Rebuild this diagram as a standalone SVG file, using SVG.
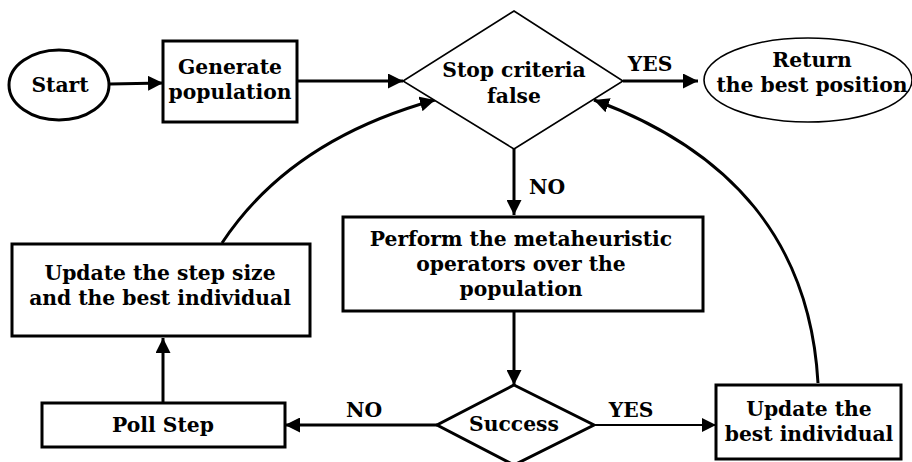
<svg xmlns="http://www.w3.org/2000/svg" width="912" height="462" viewBox="0 0 912 462">
<style>
text{font-family:"DejaVu Serif",serif;font-weight:bold;font-size:20.3px;fill:#000;text-anchor:middle}
.n{fill:#fff;stroke:#000;stroke-width:3}
.t{fill:#fff;stroke:#000;stroke-width:1.6}
.c{fill:none;stroke:#000;stroke-width:3}
.ct{fill:none;stroke:#000;stroke-width:1.8}
</style>
<defs>
<marker id="ah" viewBox="0 0 10 10" refX="10" refY="5" markerWidth="5" markerHeight="5" markerUnits="strokeWidth" orient="auto"><path d="M0,0L10,5L0,10z" fill="#000"/></marker>
<marker id="aht" viewBox="0 0 10 10" refX="10" refY="5" markerWidth="8" markerHeight="8" markerUnits="strokeWidth" orient="auto"><path d="M0,0L10,5L0,10z" fill="#000"/></marker>
</defs>
<rect width="912" height="462" fill="#fff"/>
<g id="connectors">
<path class="c" d="M110,84L163,83" marker-end="url(#ah)"/>
<path class="c" d="M297,81L403,81" marker-end="url(#ah)"/>
<path class="c" d="M623,81L698,81" marker-end="url(#ah)"/>
<path class="c" d="M514,149L514,215" marker-end="url(#ah)"/>
<path class="c" d="M514,311L514,385" marker-end="url(#ah)"/>
<path class="ct" d="M594,425L716,425" marker-end="url(#aht)"/>
<path class="c" d="M437,425L285,425" marker-end="url(#ah)"/>
<path class="c" d="M163,403L163,338" marker-end="url(#ah)"/>
<path class="c" d="M222,243Q290,140 435,100" marker-end="url(#ah)"/>
<path class="c" d="M818,383C810,240 730,150 594,100" marker-end="url(#ah)"/>
<text x="650" y="71">YES</text>
<text x="547" y="194">NO</text>
<text x="631" y="417">YES</text>
<text x="364" y="417">NO</text>
</g>
<g id="start"><ellipse class="n" cx="59" cy="85" rx="50" ry="35"/><text x="60" y="92">Start</text></g>
<g id="generate"><rect class="n" x="163" y="41" width="134" height="81"/><text x="230" y="74">Generate</text><text x="230" y="99">population</text></g>
<g id="stop"><path class="t" d="M514,11L623,81L514,149L403,81z"/><text x="514" y="77">Stop criteria</text><text x="514" y="103">false</text></g>
<g id="return"><ellipse class="t" cx="808" cy="80" rx="104" ry="42"/><text x="812" y="67">Return</text><text x="812" y="92">the best position</text></g>
<g id="perform"><rect class="n" x="343" y="217" width="360" height="94"/><text x="521" y="246">Perform the metaheuristic</text><text x="521" y="271">operators over the</text><text x="521" y="296">population</text></g>
<g id="success"><path class="n" d="M514,385L594,425L514,465L437,425z"/><text x="514" y="431">Success</text></g>
<g id="updatebest"><rect class="n" x="716" y="385" width="185" height="74"/><text x="809" y="416">Update the</text><text x="809" y="441">best individual</text></g>
<g id="poll"><rect class="n" x="42" y="403" width="243" height="44"/><text x="163" y="432">Poll Step</text></g>
<g id="updatestep"><rect class="n" x="12" y="244" width="298" height="92"/><text x="160" y="280">Update the step size</text><text x="160" y="305">and the best individual</text></g>
</svg>
